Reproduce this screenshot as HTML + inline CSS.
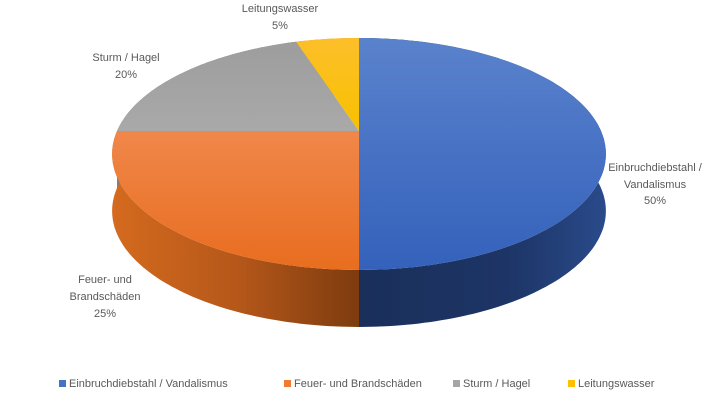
<!DOCTYPE html>
<html><head><meta charset="utf-8"><style>
html,body{margin:0;padding:0;background:#fff;}
svg{display:block;font-family:"Liberation Sans",sans-serif;}
</style></head><body>
<svg id="chart" width="720" height="400" viewBox="0 0 720 400">
<defs>
<linearGradient id="gBlueSide" x1="0" x2="1" y1="0" y2="0"><stop offset="0" stop-color="#1a2f5a"/><stop offset="0.6" stop-color="#1d3566"/><stop offset="1" stop-color="#2a4a8a"/></linearGradient>
<linearGradient id="gOrangeSide" x1="0" x2="1" y1="0" y2="0"><stop offset="0" stop-color="#d46a1e"/><stop offset="0.5" stop-color="#b6581a"/><stop offset="1" stop-color="#7e3b0e"/></linearGradient>
<linearGradient id="gBlueTop" x1="0" x2="0" y1="0" y2="1"><stop offset="0" stop-color="#5a82cc"/><stop offset="1" stop-color="#3461bb"/></linearGradient>
<linearGradient id="gOrangeTop" x1="0" x2="0" y1="0" y2="1"><stop offset="0" stop-color="#f0874a"/><stop offset="1" stop-color="#e86d1f"/></linearGradient>
<linearGradient id="gGrayTop" x1="0" x2="0" y1="0" y2="1"><stop offset="0" stop-color="#9d9d9d"/><stop offset="1" stop-color="#a9a9a9"/></linearGradient>
<linearGradient id="gYellowTop" x1="0" x2="0" y1="0" y2="1"><stop offset="0" stop-color="#fdbf2a"/><stop offset="1" stop-color="#f7c000"/></linearGradient>
</defs>
<g id="walls"></g>
<g id="tops"></g>
<g id="labels" font-size="11" fill="#595959" text-anchor="middle">
<text x="280" y="12">Leitungswasser</text>
<text x="280" y="29">5%</text>
<text x="126" y="61">Sturm / Hagel</text>
<text x="126" y="78">20%</text>
<text x="655" y="171">Einbruchdiebstahl /</text>
<text x="655" y="188">Vandalismus</text>
<text x="655" y="204">50%</text>
<text x="105" y="283">Feuer- und</text>
<text x="105" y="300">Brandschäden</text>
<text x="105" y="317">25%</text>
</g>
<g id="legend" font-size="11" fill="#595959">
<g><rect x="59" y="380" width="7" height="7" fill="#4472c4"/><text x="69" y="387">Einbruchdiebstahl / Vandalismus</text></g>
<g><rect x="284" y="380" width="7" height="7" fill="#ed7d31"/><text x="294" y="387">Feuer- und Brandschäden</text></g>
<g><rect x="453" y="380" width="7" height="7" fill="#a5a5a5"/><text x="463" y="387">Sturm / Hagel</text></g>
<g><rect x="568" y="380" width="7" height="7" fill="#ffc000"/><text x="578" y="387">Leitungswasser</text></g>
</g>
</svg>
<script>
const categories = ["Einbruchdiebstahl / Vandalismus","Feuer- und Brandschäden","Sturm / Hagel","Leitungswasser"];
const values = [50, 25, 20, 5];
const topFills = ["url(#gBlueTop)","url(#gOrangeTop)","url(#gGrayTop)","url(#gYellowTop)"];
const sideFills = ["url(#gBlueSide)","url(#gOrangeSide)","#7f7f7f","#c99700"];
const names = ["einbruch","feuer","sturm","leitungswasser"];
const NS="http://www.w3.org/2000/svg";
const cx=359, cyA=131, B=85.5, K=-0.198, W=242, DEPTH=57;
function proj(theta, drop){ // theta clockwise from top, radians
  const u=Math.sin(theta), v=-Math.cos(theta);
  const d=1+K*v;
  return [cx+W*u/d, (cyA+B*v)/d + drop];
}
function arcPts(a1,a2,drop){
  const pts=[]; const n=Math.max(4,Math.ceil((a2-a1)/0.02));
  for(let i=0;i<=n;i++){pts.push(proj(a1+(a2-a1)*i/n,drop));}
  return pts;
}
const total=values.reduce((a,b)=>a+b,0);
const walls=document.getElementById('walls'), tops=document.getElementById('tops');
let acc=0;
values.forEach((val,i)=>{
  const a1=acc/total*2*Math.PI, a2=(acc+val)/total*2*Math.PI; acc+=val;
  const topArc=arcPts(a1,a2,0), botArc=arcPts(a1,a2,DEPTH).reverse();
  const w=document.createElementNS(NS,'path');
  w.setAttribute('d','M'+topArc.concat(botArc).map(p=>p[0].toFixed(1)+','+p[1].toFixed(1)).join('L')+'Z');
  w.setAttribute('fill',sideFills[i]);
  
  
  walls.appendChild(w);
  const t=document.createElementNS(NS,'path');
  t.setAttribute('d','M'+cx+','+cyA+'L'+topArc.map(p=>p[0].toFixed(1)+','+p[1].toFixed(1)).join('L')+'Z');
  t.setAttribute('fill',topFills[i]);
  
  
  tops.appendChild(t);
});
</script>
</body></html>
